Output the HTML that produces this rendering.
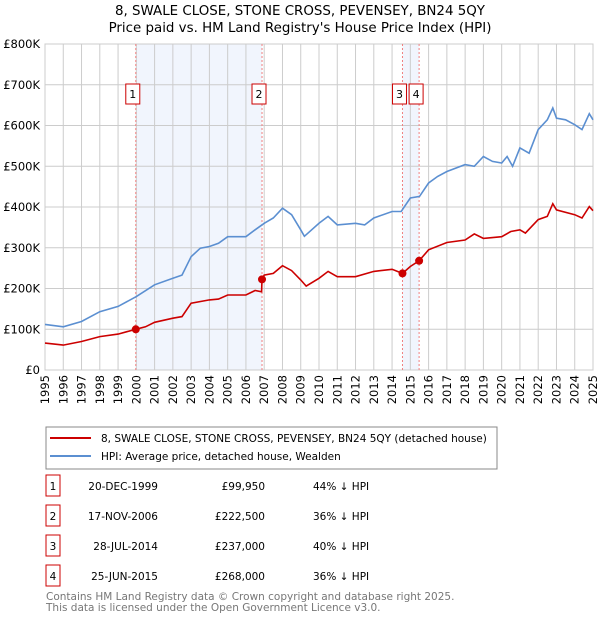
<!DOCTYPE html>
<html><head><meta charset="utf-8"><style>
body{margin:0;background:#fff;font-family:"Liberation Sans","DejaVu Sans",sans-serif;}
svg text{font-family:"DejaVu Sans","Liberation Sans",sans-serif;}
</style></head><body>
<svg id="c" width="600" height="620" viewBox="0 0 600 620" xmlns="http://www.w3.org/2000/svg">
<text x="300" y="15" text-anchor="middle" font-size="13.4" fill="#000">8, SWALE CLOSE, STONE CROSS, PEVENSEY, BN24 5QY</text>
<text x="300" y="32" text-anchor="middle" font-size="13.4" fill="#000">Price paid vs. HM Land Registry's House Price Index (HPI)</text>
<g id="plot"></g>
<rect x="46" y="427" width="451" height="42" fill="#fff" stroke="#888"/>
<line x1="50" y1="438" x2="91" y2="438" stroke="#cc0000" stroke-width="2"/>
<text x="101" y="442" font-size="10.5">8, SWALE CLOSE, STONE CROSS, PEVENSEY, BN24 5QY (detached house)</text>
<line x1="50" y1="456" x2="91" y2="456" stroke="#5b8fd1" stroke-width="2"/>
<text x="101" y="460" font-size="10.5">HPI: Average price, detached house, Wealden</text>
<g id="tbl" font-size="10.5"></g>
<text x="46" y="600" font-size="10.5" fill="#777">Contains HM Land Registry data © Crown copyright and database right 2025.</text>
<text x="46" y="611" font-size="10.5" fill="#777">This data is licensed under the Open Government Licence v3.0.</text>
</svg>
<script>
const hpiX=[1995,1996,1997,1998,1999,2000,2001,2002,2002.5,2003,2003.5,2004,2004.5,2005,2006,2006.5,2007,2007.5,2008,2008.5,2009,2009.2,2010,2010.5,2011,2012,2012.5,2013,2014,2014.5,2015,2015.5,2016,2016.5,2017,2018,2018.5,2019,2019.5,2020,2020.3,2020.6,2021,2021.5,2022,2022.5,2022.8,2023,2023.5,2024,2024.4,2024.8,2025];
const hpiY=[112,106,119,143,156,180,209,225,233,278,299,303,311,327,327,344,360,373,397,381,344,328,360,377,356,360,356,373,389,389,422,426,459,475,487,504,500,524,512,508,524,500,545,532,590,614,643,618,614,602,590,629,614];
const ppX=[1995,1996,1997,1998,1999,1999.96,2000.5,2001,2002,2002.5,2003,2004,2004.5,2005,2006,2006.5,2006.86,2006.88,2007,2007.5,2008,2008.5,2009,2009.3,2010,2010.5,2011,2012,2013,2014,2014.57,2015,2015.48,2016,2017,2018,2018.5,2019,2020,2020.5,2021,2021.3,2022,2022.5,2022.8,2023,2024,2024.4,2024.8,2025];
const ppY=[66,61,70,82,88,99.95,106,117,127,131,164,172,174,184,184,195,192,222.5,233,237,256,244,221,206,225,242,229,229,242,247,237,254,268,295,313,319,334,323,327,340,344,336,369,377,408,393,381,373,401,391];
const saleX=[1999.97,2006.88,2014.57,2015.48];
const saleY=[99.95,222.5,237,268];
const saleLabels=["1","2","3","4"];
const saleDates=["20-DEC-1999","17-NOV-2006","28-JUL-2014","25-JUN-2015"];
const salePrices=["£99,950","£222,500","£237,000","£268,000"];
const salePct=["44% ↓ HPI","36% ↓ HPI","40% ↓ HPI","36% ↓ HPI"];
const yTicks=[0,100,200,300,400,500,600,700,800];
const yTickLabels=["£0","£100K","£200K","£300K","£400K","£500K","£600K","£700K","£800K"];
const xTicks=[1995,1996,1997,1998,1999,2000,2001,2002,2003,2004,2005,2006,2007,2008,2009,2010,2011,2012,2013,2014,2015,2016,2017,2018,2019,2020,2021,2022,2023,2024,2025];

const L=45,R=593,T=44,B=370;
const xs=v=>L+(v-1995)/30*(R-L);
const ys=v=>B-v/800*(B-T);
const NS="http://www.w3.org/2000/svg";
const g=document.getElementById('plot');
function mk(tag,attrs,parent){const e=document.createElementNS(NS,tag);for(const k in attrs)e.setAttribute(k,attrs[k]);(parent||g).appendChild(e);return e;}
[[0,1],[2,3]].forEach(p=>{
 const r=mk('rect',{x:xs(saleX[p[0]]),y:T,width:xs(saleX[p[1]])-xs(saleX[p[0]]),height:B-T,fill:'#eef3fd',opacity:0.8});
 
 
});
xTicks.forEach(v=>{
 const l=mk('line',{x1:xs(v),x2:xs(v),y1:T,y2:B,stroke:'#ccc','stroke-width':1});
 
 
 const t=mk('text',{x:0,y:0,'font-size':11.5,'text-anchor':'end',transform:`translate(${xs(v)+4},${B+5}) rotate(-90)`});
 t.textContent=v;
 
 
});
yTicks.forEach((v,i)=>{
 const l=mk('line',{x1:L,x2:R,y1:ys(v),y2:ys(v),stroke:'#ccc','stroke-width':1});
 
 
 const t=mk('text',{x:40,y:ys(v)+4,'font-size':11.5,'text-anchor':'end'});
 t.textContent=yTickLabels[i];
 
 
});
const fr=mk('rect',{x:L,y:T,width:R-L,height:B-T,fill:'none',stroke:'#ccc'});


saleX.forEach((v,i)=>{
 const l=mk('line',{x1:xs(v),x2:xs(v),y1:T,y2:B,stroke:'#f08080','stroke-width':1,'stroke-dasharray':'2,2'});
 
 
});
const pts=(X,Y)=>X.map((x,i)=>xs(x).toFixed(1)+','+ys(Y[i]).toFixed(1)).join(' ');
const h=mk('polyline',{points:pts(hpiX,hpiY),fill:'none',stroke:'#5b8fd1','stroke-width':1.6});


const p=mk('polyline',{points:pts(ppX,ppY),fill:'none',stroke:'#cc0000','stroke-width':1.6});


saleX.forEach((v,i)=>{
 const c=mk('circle',{cx:xs(v),cy:ys(saleY[i]),r:4,fill:'#cc0000'});
 
 
 const bx=xs(v)-10;
 const r=mk('rect',{x:bx,y:84,width:14,height:20,fill:'#fff',stroke:'#cc0000'});
 
 
 const t=mk('text',{x:bx+7,y:98,'font-size':11,'text-anchor':'middle'});
 t.textContent=saleLabels[i];
 
 
});
const tb=document.getElementById('tbl');
saleLabels.forEach((s,i)=>{
 const y=475+i*30;
 const r=mk('rect',{x:46,y:y,width:14,height:21,fill:'#fff',stroke:'#cc0000'},tb);
 
 
 const t=mk('text',{x:53,y:y+15,'text-anchor':'middle'},tb);t.textContent=s;
 
 
 const d=mk('text',{x:158,y:y+15,'text-anchor':'end'},tb);d.textContent=saleDates[i];
 
 
 const pr=mk('text',{x:265,y:y+15,'text-anchor':'end'},tb);pr.textContent=salePrices[i];
 
 
 const pc=mk('text',{x:313,y:y+15},tb);pc.textContent=salePct[i];
 
 
});
</script>
</body></html>
